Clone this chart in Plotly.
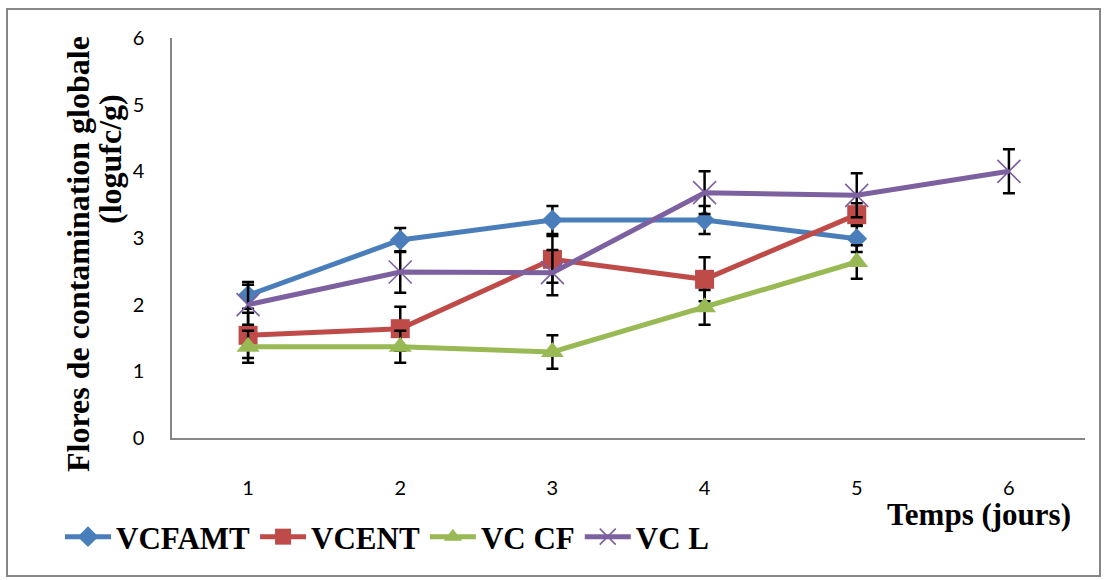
import plotly.graph_objects as go

days = [1, 2, 3, 4, 5, 6]
tick_labels = ["1", "2", "3", "4", "5", "6"]

vcfamt = [2.14, 2.97, 3.27, 3.27, 2.99]
vcfamt_err = [0.20, 0.18, 0.21, 0.21, 0.20]
vcent = [1.54, 1.64, 2.68, 2.38, 3.35]
vcent_err = [0.34, 0.33, 0.35, 0.33, 0.17]
vccf = [1.37, 1.37, 1.29, 1.96, 2.64]
vccf_err = [0.24, 0.24, 0.25, 0.26, 0.25]
vcl = [2.00, 2.49, 2.48, 3.68, 3.64, 4.00]
vcl_err = [0.30, 0.31, 0.34, 0.32, 0.33, 0.33]

series = [
    ("VCFAMT", vcfamt, vcfamt_err, "#4A7EBB", "diamond", 16, 0),
    ("VCENT", vcent, vcent_err, "#BE4B48", "square", 19, 0),
    ("VC CF", vccf, vccf_err, "#98B954", "triangle-up", 20, 0),
    ("VC L", vcl, vcl_err, "#7D60A0", "x-thin-open", 23, 1.6),
]

SERIF = "Times New Roman, Liberation Serif, serif"

fig = go.Figure()
for name, vals, err, color, sym, size, mlw in series:
    fig.add_trace(go.Scatter(
        x=days[:len(vals)], y=vals, name="<b>" + name + "</b>", mode="lines+markers",
        line=dict(color=color, width=5),
        marker=dict(symbol=sym, size=size, color=color,
                    line=dict(color=color, width=mlw)),
        error_y=dict(type="data", array=err, visible=True,
                     color="black", thickness=2.5, width=6),
    ))

L, R, T, B = 172, 19, 38, 142
W, H = 1104, 580
pw, ph = W - L - R, H - T - B

def px_x(p):
    return (p - L) / pw

def px_y(p):
    return (H - B - p) / ph

fig.update_layout(
    width=W, height=H,
    margin=dict(l=L, r=R, t=T, b=B),
    paper_bgcolor="white", plot_bgcolor="white",
    showlegend=True,
    legend=dict(orientation="h", x=px_x(60), y=px_y(537), xanchor="left", yanchor="middle",
                font=dict(family=SERIF, size=31, color="black"),
                itemwidth=46, tracegroupgap=0, bgcolor="rgba(0,0,0,0)"),
    xaxis=dict(range=[0.5, 6.5], tickvals=days, ticktext=tick_labels,
               showgrid=False, zeroline=False, showline=True, linecolor="#868686", linewidth=1.5,
               ticks="", ticklabelstandoff=31,
               tickfont=dict(family="Lato, Open Sans, sans-serif", size=20, color="black")),
    yaxis=dict(range=[0, 6], tickvals=[0, 1, 2, 3, 4, 5, 6],
               showgrid=False, zeroline=False, showline=True, linecolor="#868686", linewidth=1.5,
               ticks="", ticklabelstandoff=22,
               tickfont=dict(family="Lato, Open Sans, sans-serif", size=20, color="black")),
    annotations=[
        dict(text="<b>Temps (jours)</b>", xref="paper", yref="paper",
             x=px_x(979), y=px_y(514), xanchor="center", yanchor="middle", showarrow=False,
             font=dict(family=SERIF, size=31, color="black")),
        dict(text="<b>Flores de contamination globale</b>", xref="paper", yref="paper",
             x=px_x(78), y=px_y(254), xanchor="center", yanchor="middle", showarrow=False,
             textangle=-90, font=dict(family=SERIF, size=32, color="black")),
        dict(text="<b>(logufc/g)</b>", xref="paper", yref="paper",
             x=px_x(110), y=px_y(159), xanchor="center", yanchor="middle", showarrow=False,
             textangle=-90, font=dict(family=SERIF, size=32, color="black")),
    ],
    shapes=[
        dict(type="rect", xref="paper", yref="paper",
             x0=px_x(7), x1=px_x(1100), y0=px_y(576), y1=px_y(9),
             line=dict(color="#868686", width=2), fillcolor="rgba(0,0,0,0)", layer="below"),
    ],
)

fig.write_html("out.html")
